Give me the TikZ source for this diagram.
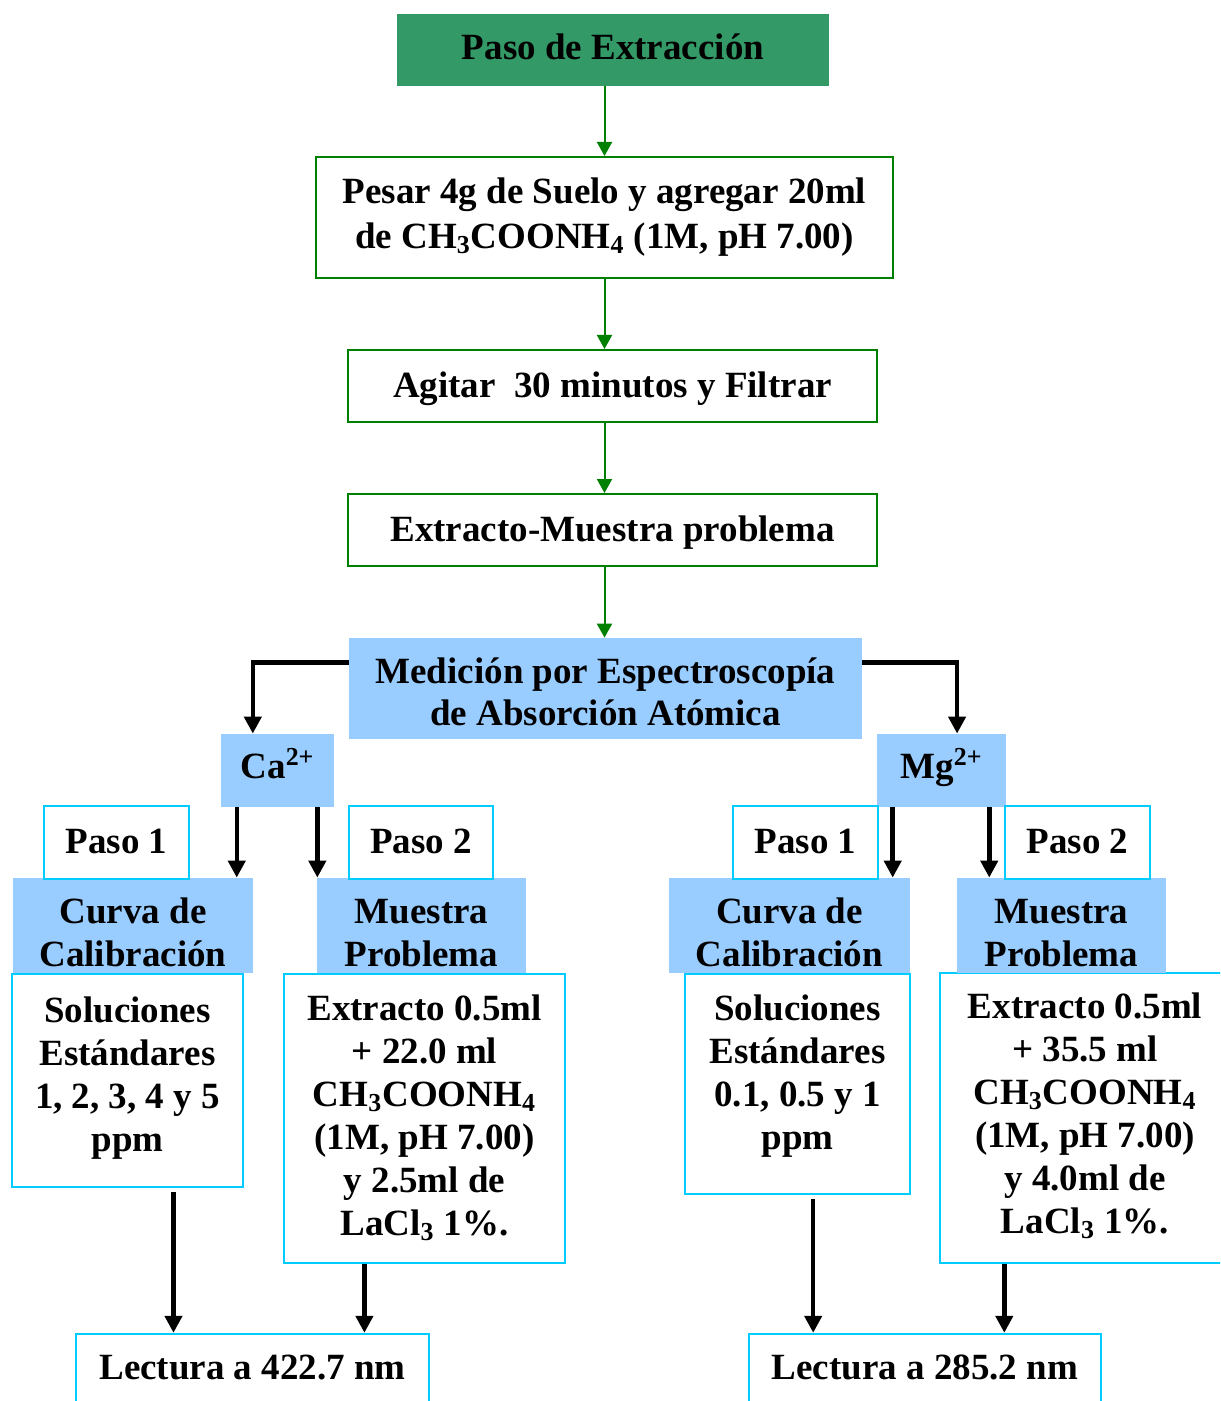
\documentclass[tikz,border=0pt]{standalone}
\usepackage{fontspec}
\setmainfont{Liberation Serif}
\usetikzlibrary{arrows.meta,calc}
\definecolor{headgreen}{HTML}{339966}
\definecolor{linegreen}{HTML}{008000}
\definecolor{paleblue}{HTML}{99CCFF}
\definecolor{framecyan}{HTML}{00CCFF}
\newcommand\acetamon{CH\textsubscript{3}COONH\textsubscript{4}}
\newcommand\lantclor{LaCl\textsubscript{3}}

\begin{document}
\begin{tikzpicture}[x=0.5pt,y=-0.5pt,
  boxwh/.style 2 args={rectangle, inner sep=0pt, minimum width=#1*0.5pt, minimum height=#2*0.5pt},
  headbox/.style={fill=headgreen},
  gbox/.style={draw=linegreen, line width=1pt, fill=white},
  bbox/.style={fill=paleblue},
  cbox/.style={draw=framecyan, line width=1.2pt, fill=white},
  lbl/.style={anchor=north, align=center, inner sep=0pt, text=black,
              font=\bfseries\fontsize{18.5pt}{21.5pt}\selectfont},
  garrow/.style={draw=linegreen, line width=1pt, -{Triangle[length=7pt,width=7.5pt]}},
  karrow/.style={draw=black, line width=2.25pt, -{Triangle[length=8.5pt,width=8.5pt]}},
]
\clip (0,0) rectangle (1220,1401);
\fill[white] (0,0) rectangle (1220,1401);

% extraction chain
\node[boxwh={432}{72}, headbox] (head) at (613,50) {};
\node[boxwh={577}{121}, gbox] (pesar) at (604.5,217.5) {};
\node[boxwh={529}{72}, gbox] (agitar) at (612.5,386) {};
\node[boxwh={529}{72}, gbox] (extmues) at (612.5,530) {};
\node[boxwh={513}{101}, bbox] (medicion) at (605.5,688.5) {};
\node[boxwh={113}{73}, bbox] (ca) at (277.5,770.5) {};
\node[boxwh={129}{73}, bbox] (mg) at (941.5,770.5) {};

% framed detail boxes (drawn before the blue headers that overlap them)
\node[boxwh={231}{213}, cbox] (solL) at (127.5,1080.5) {};
\node[boxwh={281}{289}, cbox] (extL) at (424.5,1118.5) {};
\node[boxwh={225}{220}, cbox] (solR) at (797.5,1084) {};
\node[boxwh={290}{290}, cbox] (extR) at (1085,1118) {};
\node[boxwh={353}{71}, cbox] (lecL) at (252.5,1369.5) {};
\node[boxwh={352}{71}, cbox] (lecR) at (925,1369.5) {};

% blue headers
\node[boxwh={240}{95}, bbox] (curL) at (133,925.5) {};
\node[boxwh={209}{95}, bbox] (musL) at (421.5,925.5) {};
\node[boxwh={241}{95}, bbox] (curR) at (789.5,925.5) {};
\node[boxwh={209}{95}, bbox] (musR) at (1061.5,925.5) {};

% step tags
\node[boxwh={145}{73}, cbox] (p1L) at (116.5,842.5) {};
\node[boxwh={144}{73}, cbox] (p2L) at (421,842.5) {};
\node[boxwh={145}{73}, cbox] (p1R) at (805.5,842.5) {};
\node[boxwh={145}{73}, cbox] (p2R) at (1077.5,842.5) {};

% texts
\node[lbl] (headT) at (613,28.9) {\strut Paso de Extracción};
\node[lbl, font=\bfseries\fontsize{18.5pt}{22.5pt}\selectfont] (pesarT) at (604.5,171.5)
  {\strut Pesar 4g de Suelo y agregar 20ml\\\strut de \acetamon{} (1M, pH 7.00)};
\node[lbl] (agitarT) at (612.5,366.9) {\strut Agitar\ \ 30 minutos y Filtrar};
\node[lbl] (extmuesT) at (612.5,510.9) {\strut Extracto-Muestra problema};
\node[lbl, font=\bfseries\fontsize{18.5pt}{21pt}\selectfont] (medicionT) at (605.5,653.6)
  {\strut Medición por Espectroscopía\\\strut de Absorción Atómica};
\node[lbl] (caT) at (277.5,747.9) {\strut Ca\textsuperscript{2+}};
\node[lbl] (mgT) at (941.5,747.9) {\strut Mg\textsuperscript{2+}};

\node[lbl] (p1LT) at (116.5,822.9) {\strut Paso 1};
\node[lbl] (p2LT) at (421,822.9) {\strut Paso 2};
\node[lbl] (p1RT) at (805.5,822.9) {\strut Paso 1};
\node[lbl] (p2RT) at (1077.5,822.9) {\strut Paso 2};

\node[lbl] (curLT) at (133,892.9) {\strut Curva de\\\strut Calibración};
\node[lbl] (musLT) at (421.5,892.9) {\strut Muestra\\\strut Problema};
\node[lbl] (curRT) at (789.5,892.9) {\strut Curva de\\\strut Calibración};
\node[lbl] (musRT) at (1061.5,892.9) {\strut Muestra\\\strut Problema};

\node[lbl] (solLT) at (127.5,991.9)
  {\strut Soluciones\\\strut Estándares\\\strut 1, 2, 3, 4 y 5\\\strut ppm};
\node[lbl] (extLT) at (424.5,989.9)
  {\strut Extracto 0.5ml\\\strut + 22.0 ml\\\strut \acetamon\\\strut (1M, pH 7.00)\\\strut y 2.5ml de\\\strut \lantclor{} 1\%.};
\node[lbl] (solRT) at (797.5,989.9)
  {\strut Soluciones\\\strut Estándares\\\strut 0.1, 0.5 y 1\\\strut ppm};
\node[lbl] (extRT) at (1085,987.9)
  {\strut Extracto 0.5ml\\\strut + 35.5 ml\\\strut \acetamon\\\strut (1M, pH 7.00)\\\strut y 4.0ml de\\\strut \lantclor{} 1\%.};
\node[lbl] (lecLT) at (252.5,1348.9) {\strut Lectura a 422.7 nm};
\node[lbl] (lecRT) at (925,1348.9) {\strut Lectura a 285.2 nm};

% green connectors
\draw[garrow] (head.south -| pesar.north) -- (pesar.north);
\draw[garrow] (pesar.south) -- (pesar.south |- agitar.north);
\draw[garrow] (pesar.south |- agitar.south) -- (pesar.south |- extmues.north);
\draw[garrow] (pesar.south |- extmues.south) -- (pesar.south |- medicion.north);

% branch to the two elements
\coordinate (caIn) at ($(ca.north west)!0.283!(ca.north east)$);
\coordinate (mgIn) at ($(mg.north west)!0.62!(mg.north east)$);
\draw[karrow] ($(medicion.north west)!0.245!(medicion.south west)$) -| (caIn);
\draw[karrow] ($(medicion.north east)!0.245!(medicion.south east)$) -| (mgIn);

% element to its two steps
\coordinate (caA) at ($(ca.south west)!0.142!(ca.south east)$);
\coordinate (caB) at ($(ca.south west)!0.85!(ca.south east)$);
\coordinate (mgA) at ($(mg.south west)!0.124!(mg.south east)$);
\coordinate (mgB) at ($(mg.south west)!0.868!(mg.south east)$);
\draw[karrow] (caA) -- (caA |- curL.north);
\draw[karrow] (caB) -- (caB |- musL.north);
\draw[karrow] (mgA) -- (mgA |- curR.north);
\draw[karrow] (mgB) -- (mgB |- musR.north);

% steps to the readings
\coordinate (solLo) at ($(solL.south west)!0.697!(solL.south east)$);
\coordinate (extLo) at ($(extL.south west)!0.288!(extL.south east)$);
\coordinate (solRo) at ($(solR.south west)!0.569!(solR.south east)$);
\coordinate (extRo) at ($(extR.south west)!0.224!(extR.south east)$);
\draw[karrow] ([yshift=-2pt]solLo) -- (solLo |- lecL.north);
\draw[karrow] (extLo) -- (extLo |- lecL.north);
\draw[karrow] ([yshift=-2pt]solRo) -- (solRo |- lecR.north);
\draw[karrow] (extRo) -- (extRo |- lecR.north);
\end{tikzpicture}
\end{document}
